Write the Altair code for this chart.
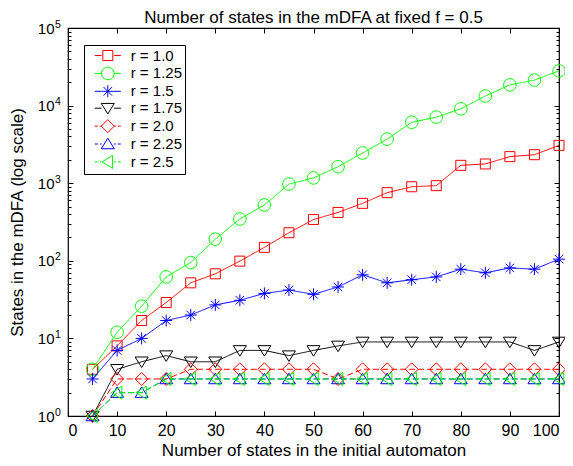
import altair as alt
import pandas as pd

# ---- data ----
n_states = [5, 10, 15, 20, 25, 30, 35, 40, 45, 50, 55, 60, 65, 70, 75, 80, 85, 90, 95, 100]
series_names = ["r = 1.0", "r = 1.25", "r = 1.5", "r = 1.75", "r = 2.0", "r = 2.25", "r = 2.5"]
r_1_00 = [4, 8, 17, 29, 52, 68, 99, 149, 230, 340, 420, 550, 755, 900, 930, 1700, 1770, 2200, 2330, 3070]
r_1_25 = [4, 12, 26, 62, 95, 190, 346, 524, 975, 1170, 1630, 2450, 3700, 6100, 7100, 9100, 13300, 18500, 21300, 28000]
r_1_50 = [3, 7, 10, 17, 20, 27, 31, 38, 42, 37, 46, 66, 52, 57, 62, 78, 70, 81, 78, 105]
r_1_75 = [1, 4, 5, 6, 5, 5, 7, 7, 6, 7, 8, 9, 9, 9, 9, 9, 9, 9, 7, 9]
r_2_00 = [1, 3, 3, 3, 4, 4, 4, 4, 4, 4, 3, 4, 4, 4, 4, 4, 4, 4, 4, 4]
r_2_25 = [1, 2, 2, 3, 3, 3, 3, 3, 3, 3, 3, 3, 3, 3, 3, 3, 3, 3, 3, 3]
r_2_50 = [1, 2, 2, 3, 3, 3, 3, 3, 3, 3, 3, 3, 3, 3, 3, 3, 3, 3, 3, 3]
all_series = [r_1_00, r_1_25, r_1_50, r_1_75, r_2_00, r_2_25, r_2_50]

x_ticks = [0, 10, 20, 30, 40, 50, 60, 70, 80, 90, 100]
y_major = [1, 10, 100, 1000, 10000, 100000]
y_minor = [m * 10 ** k for k in range(5) for m in range(1, 10)] + [100000]

# ---- styles ----
colors = ["#ff0000", "#00ff00", "#0000ff", "#000000", "#ff0000", "#0000ff", "#00ff00"]
dashes = [[1, 0], [1, 0], [1, 0], [1, 0], [6, 3], [6, 3], [6, 3]]
markers = [
    "M-1,-1L1,-1L1,1L-1,1Z",
    "M1.25,0A1.25,1.25,0,1,1,-1.25,0A1.25,1.25,0,1,1,1.25,0Z",
    "M-1.2,0L1.2,0M0,-1.2L0,1.2M-0.85,-0.85L0.85,0.85M-0.85,0.85L0.85,-0.85",
    "M-1.3,-0.95L1.3,-0.95L0,1.15Z",
    "M0,-1.3L1.3,0L0,1.3L-1.3,0Z",
    "M-1.3,0.95L1.3,0.95L0,-1.15Z",
    "M0.95,-1.3L0.95,1.3L-1.15,0Z",
]
solid_stub = "M-2.6,0L-1.25,0M1.25,0L2.6,0"
dash_stub = "M-2.6,0L-2.0,0M-1.6,0L-1.25,0M1.25,0L1.6,0M2.0,0L2.6,0"
legend_shapes = [m + (solid_stub if d == [1, 0] else dash_stub) for m, d in zip(markers, dashes)]

rows = []
for name, vals in zip(series_names, all_series):
    for x, v in zip(n_states, vals):
        rows.append({"x": x, "value": v, "series": name})
df = pd.DataFrame(rows)

FONT = "Liberation Sans"
W, H = 491, 388

x_scale = alt.Scale(domain=[0, 100], nice=False, zero=False)
y_scale = alt.Scale(type="log", domain=[1, 100000], nice=False)
color_scale = alt.Scale(domain=series_names, range=colors)

exp_expr = "format(round(log(datum.value)/LN10), 'd')"
major_test = "abs(log(datum.value)/LN10 - round(log(datum.value)/LN10)) < 0.001"
tick_len = {"condition": {"test": major_test, "value": 5}, "value": 3}

base = alt.Chart(df)

# axes with labels (left / bottom), no ticks
labels_layer = base.mark_point(opacity=0).encode(
    x=alt.X("x:Q", scale=x_scale, axis=alt.Axis(
        orient="bottom", values=x_ticks, ticks=False, tickSize=0, domain=False, grid=False,
        labelFontSize=16, labelPadding=6, title="Number of states in the initial automaton",
        titleFontSize=17, titleFontWeight="normal", titlePadding=4)),
    y=alt.Y("value:Q", scale=y_scale, axis=alt.Axis(
        orient="left", values=y_major, ticks=False, tickSize=0, domain=False, grid=False,
        labelExpr="'10'", labelFontSize=15, labelPadding=14,
        title="States in the mDFA (log scale)", titleFontSize=17, titleFontWeight="normal",
        titlePadding=11)),
)

# exponent (superscript) labels
exp_layer = base.mark_point(opacity=0).encode(
    x=alt.X("x:Q", scale=x_scale, axis=None),
    y=alt.Y("value:Q", scale=y_scale, axis=alt.Axis(
        orient="left", values=y_major, ticks=False, tickSize=0, domain=False, grid=False,
        labelExpr=exp_expr, labelFontSize=10.5, labelPadding=13.5, labelAlign="left",
        labelOffset=-4, title=None)),
)

# inward ticks at left and bottom edges
ticks_lb = base.mark_point(opacity=0).encode(
    x=alt.X("x:Q", scale=x_scale, axis=alt.Axis(
        orient="top", offset=-H, values=x_ticks, labels=False, domain=False, grid=False,
        tickSize=5, title=None)),
    y=alt.Y("value:Q", scale=y_scale, axis=alt.Axis(
        orient="right", offset=-W, values=y_minor, labels=False, domain=False, grid=False,
        tickSize=tick_len, title=None)),
)

series_layers = []
for name, path, col, dash in zip(series_names, markers, colors, dashes):
    sub = base.transform_filter(alt.datum.series == name)
    series_layers.append(
        sub.mark_line(strokeWidth=1, color=col, strokeDash=dash).encode(
            x=alt.X("x:Q", scale=x_scale, axis=None),
            y=alt.Y("value:Q", scale=y_scale, axis=None),
            order=alt.Order("x:Q"),
        )
    )
    series_layers.append(
        sub.mark_point(shape=path, filled=False, size=100, strokeWidth=1, color=col, opacity=1).encode(
            x=alt.X("x:Q", scale=x_scale, axis=None),
            y=alt.Y("value:Q", scale=y_scale, axis=None),
        )
    )

# legend carrier + inward ticks at right and top edges
legend_spec = alt.Legend(
    title=None, orient="none", legendX=16, legendY=17,
    symbolSize=100, symbolStrokeWidth=1, symbolOpacity=1,
    symbolFillColor="transparent",
    symbolOffset=13.3, labelOffset=15.4, padding=3, rowPadding=0.9,
    labelExpr="datum.label + ' \u2009'",
    labelFontSize=15, labelFont=FONT, labelColor="black",
    strokeColor="black", fillColor="white", cornerRadius=0)

carrier = base.mark_point(filled=False, size=100, strokeWidth=1, opacity=0).encode(
    x=alt.X("x:Q", scale=x_scale, axis=alt.Axis(
        orient="bottom", offset=-H, values=x_ticks, labels=False, domain=False, grid=False,
        tickSize=5, title=None)),
    y=alt.Y("value:Q", scale=y_scale, axis=alt.Axis(
        orient="left", offset=-W, values=y_minor, labels=False, domain=False, grid=False,
        tickSize=tick_len, title=None)),
    color=alt.Color("series:N", scale=color_scale, legend=legend_spec),
    shape=alt.Shape("series:N", scale=alt.Scale(domain=series_names, range=legend_shapes),
                    legend=legend_spec),
)

chart = alt.layer(labels_layer, exp_layer, ticks_lb, *series_layers, carrier).resolve_axis(
    x="independent", y="independent"
).properties(
    width=W, height=H,
    title=alt.TitleParams("Number of states in the mDFA at fixed f = 0.5", fontSize=17,
                          font=FONT, fontWeight="normal", color="black", anchor="middle",
                          offset=-8),
    autosize=alt.AutoSizeParams(type="none"),
    padding={"left": 60, "top": 20, "right": 6, "bottom": 42},
).configure(
    font=FONT,
).configure_view(
    stroke="black", strokeWidth=1.2,
).configure_axis(
    labelFont=FONT, titleFont=FONT, labelColor="black", titleColor="black", tickColor="black",
    tickWidth=1,
)

chart.save("out.html", embed_options={"renderer": "svg", "actions": False})
